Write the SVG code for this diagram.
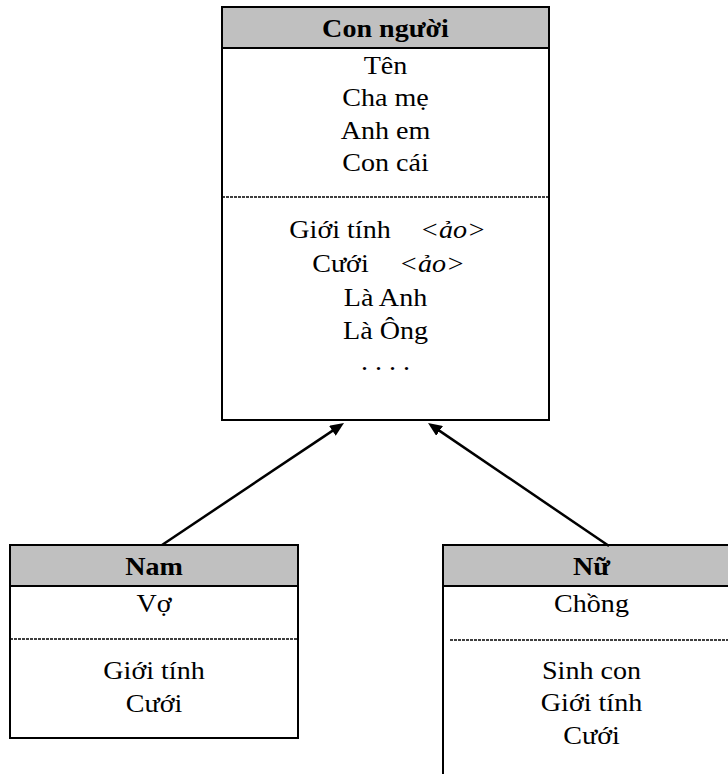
<svg xmlns="http://www.w3.org/2000/svg" width="728" height="774" viewBox="0 0 728 774">
<defs>
<style>
.box{fill:#fff;stroke:#000;stroke-width:2}
.hdr{fill:#c0c0c0;stroke:#000;stroke-width:2}
.sep{stroke:#000;stroke-width:1.5;stroke-dasharray:3 1;fill:none}
.t{font-family:"Liberation Serif","Times New Roman",serif;font-size:26px;fill:#000;text-anchor:middle}
.b{font-weight:bold}
.i{font-style:italic}
.conn{stroke:#000;stroke-width:2.5;fill:none}
</style>
<marker id="ah" markerUnits="userSpaceOnUse" markerWidth="14" markerHeight="12" refX="4" refY="6" orient="auto" viewBox="0 0 14 12"><path d="M0,0 L14,6 L0,12 z" fill="#000"/></marker>
</defs>
<rect x="0" y="0" width="728" height="774" fill="#fff"/>
<g id="con-nguoi">
<rect class="box" x="222" y="7" width="327" height="413"/>
<rect class="hdr" x="222" y="7" width="327" height="41"/>
<line class="sep" x1="222" y1="197" x2="549" y2="197"/>
<g transform="translate(385.5,0) scale(1.08,1)">
<text class="t b" x="0" y="37">Con người</text>
<text class="t" x="0" y="74">Tên</text>
<text class="t" x="0" y="106.5">Cha mẹ</text>
<text class="t" x="0" y="139">Anh em</text>
<text class="t" x="0" y="171.5">Con cái</text>
<text class="t" x="-42.1" y="238">Giới tính</text>
<text class="t i" x="62.5" y="238">&lt;ảo&gt;</text>
<text class="t" x="-41.7" y="272">Cưới</text>
<text class="t i" x="43.1" y="272">&lt;ảo&gt;</text>
<text class="t" x="0" y="306">Là Anh</text>
<text class="t" x="0" y="339">Là Ông</text>
<text class="t" x="0" y="370">. . . .</text>
</g>
</g>
<g id="nam">
<rect class="box" x="10" y="545" width="288" height="193"/>
<rect class="hdr" x="10" y="545" width="288" height="41"/>
<line class="sep" x1="10" y1="639" x2="298" y2="639"/>
<g transform="translate(154,0) scale(1.08,1)">
<text class="t b" x="0" y="575">Nam</text>
<text class="t" x="0" y="612">Vợ</text>
<text class="t" x="0" y="679">Giới tính</text>
<text class="t" x="0" y="712">Cưới</text>
</g>
</g>
<g id="nu">
<rect class="box" x="443" y="545" width="298" height="260"/>
<rect class="hdr" x="443" y="545" width="298" height="41"/>
<line class="sep" x1="450" y1="640" x2="741" y2="640"/>
<g transform="translate(591.5,0) scale(1.08,1)">
<text class="t b" x="0" y="575">Nữ</text>
<text class="t" x="0" y="612">Chồng</text>
<text class="t" x="0" y="679">Sinh con</text>
<text class="t" x="0" y="711.5">Giới tính</text>
<text class="t" x="0" y="744">Cưới</text>
</g>
</g>
<g id="connectors">
<line class="conn" x1="162" y1="545" x2="335.7" y2="428.6" marker-end="url(#ah)"/>
<line class="conn" x1="609" y1="546" x2="436.3" y2="428.6" marker-end="url(#ah)"/>
</g>
</svg>
